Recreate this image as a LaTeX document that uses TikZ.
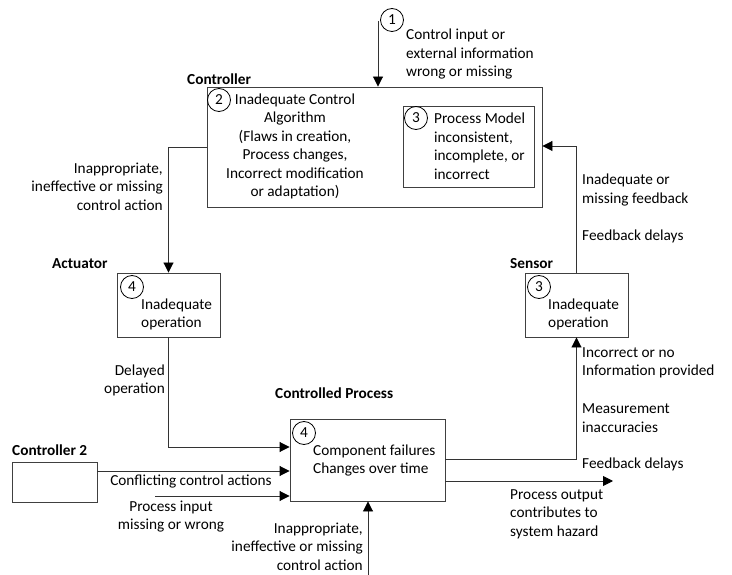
\documentclass[tikz,border=0pt]{standalone}
\usepackage{fontspec}
\setmainfont{Carlito}
\usetikzlibrary{arrows.meta}
\begin{document}
\begin{tikzpicture}[x=1pt,y=-1pt,
  every node/.style={font=\fontsize{15.3}{18.5}\selectfont, inner sep=0pt},
  box/.style={draw=black!75, line width=0.9pt, fill=white},
  num/.style={draw=black, line width=0.8pt, circle, minimum size=23pt},
  ttl/.style={font=\fontsize{15.3}{18.5}\selectfont\bfseries, anchor=west},
  lbl/.style={align=left, anchor=west},
  lblr/.style={align=right, anchor=east},
  conn/.style={draw=black!80, line width=0.9pt},
  arr/.style={conn, -{Triangle[length=10pt,width=10pt,color=black]}}]
\useasboundingbox (0,0) rectangle (732,575);

% boxes
\node[box, minimum width=335pt, minimum height=120pt] (ctrl) at (374.5,147) {};
\node[box, minimum width=131pt, minimum height=81pt] (pm) at (468.5,146.5) {};
\node[box, minimum width=103pt, minimum height=64pt] (act) at (168.5,305) {};
\node[box, minimum width=103pt, minimum height=64pt] (sens) at (576.5,305) {};
\node[box, minimum width=155pt, minimum height=82pt] (proc) at (367.5,460) {};
\node[box, minimum width=85pt, minimum height=40pt] (c2) at (54.5,482) {};

% titles
\node[ttl] (tctrl) at (187,79) {Controller};
\node[ttl] (tact) at (52,264) {Actuator};
\node[ttl] (tsens) at (510,264) {Sensor};
\node[ttl] (tproc) at (275,393) {Controlled Process};
\node[ttl] (tc2) at (12,450) {Controller 2};

% numbered circles
\node[num] (n1) at (392,20) {1};
\node[num] (n2) at (219,100) {2};
\node[num] (n3a) at (416,118) {3};
\node[num] (n4a) at (132,287) {4};
\node[num] (n3b) at (539,287) {3};
\node[num] (n4b) at (304,433) {4};

% box texts
\node[align=center] (tx2) at (295,146.5) {Inadequate Control\\Algorithm\\(Flaws in creation,\\Process changes,\\Incorrect modification\\or adaptation)};
\node[lbl] (tx3) at (434,146) {Process Model\\inconsistent,\\incomplete, or\\incorrect};
\node[lbl] (txa) at (141,314.5) {Inadequate\\operation};
\node[lbl] (txs) at (548,314.5) {Inadequate\\operation};
\node[lbl] (txp) at (313,460.5) {Component failures\\Changes over time};

% connector labels
\node[lbl] (l1) at (406,54.5) {Control input or\\external information\\wrong or missing};
\node[lblr] (l2) at (163,186.5) {Inappropriate,\\ineffective or missing\\control action};
\node[lbl] (l3) at (582,190) {Inadequate or\\missing feedback};
\node[lbl] (l4) at (582,236) {Feedback delays};
\node[lbl] (l5) at (582,363) {Incorrect or no\\Information provided};
\node[lbl] (l6) at (582,418) {Measurement\\inaccuracies};
\node[lbl] (l7) at (582,464) {Feedback delays};
\node[lblr] (l8) at (165,380.5) {Delayed\\operation};
\node (l9) at (191,482) {Conflicting control actions};
\node[align=center] (l10) at (171,516.5) {Process input\\missing or wrong};
\node[lblr] (l11) at (363,546.5) {Inappropriate,\\ineffective or missing\\control action};
\node[lbl] (l12) at (510,514) {Process output\\contributes to\\system hazard};

% free ends
\coordinate (in1) at (378,21);
\coordinate (pin) at (155,496);
\coordinate (bot) at (368,575);
\coordinate (out) at (613,481);

% connectors
\draw[arr] (in1) -- (in1 |- ctrl.north);
\draw[arr] (ctrl.west) -| (act.north);
\draw[arr] (act.south) |- ([yshift=13pt]proc.west);
\draw[arr] ([yshift=11pt]c2.east) -- ([yshift=11pt]c2.east -| proc.west);
\draw[arr] (pin) -- (pin -| proc.west);
\draw[arr] (bot) -- (bot |- proc.south);
\draw[arr] ([yshift=1pt]proc.east) -| (sens.south);
\draw[arr] (sens.north) |- ([yshift=1pt]ctrl.east);
\draw[arr] ([yshift=-21pt]proc.east) -- (out);
\end{tikzpicture}
\end{document}
